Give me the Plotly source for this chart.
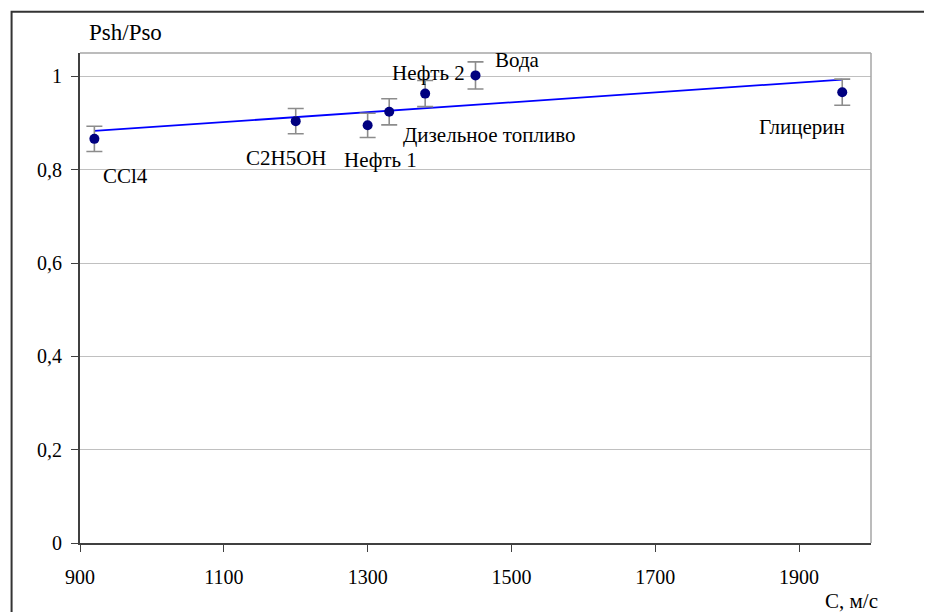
import plotly.graph_objects as go

# ---- data ----
names = ["CCl4", "C2H5OH", "Нефть 1", "Дизельное топливо", "Нефть 2", "Вода", "Глицерин"]
speed = [920, 1200, 1300, 1330, 1380, 1450, 1960]          # C, m/s
ratio = [0.866, 0.904, 0.895, 0.924, 0.963, 1.002, 0.966]   # Psh/Pso
err = [0.027, 0.027, 0.026, 0.028, 0.028, 0.029, 0.028]
trend_x = [920, 1960]
trend_y = [0.883, 0.993]
x_ticks = [900, 1100, 1300, 1500, 1700, 1900]
y_ticks = [0, 0.2, 0.4, 0.6, 0.8, 1]
y_ticktext = ["0", "0,2", "0,4", "0,6", "0,8", "1"]

# label placement (pixel offsets from each point): (xanchor, xshift, yshift)
label_pos = [("left", 7, -37), ("center", -9, -37), ("center", 13, -35),
             ("left", 12, -23), ("center", 3, 21), ("left", 17, 15),
             ("center", -40, -35)]

FONT = "Liberation Serif"
FS_LBL = 21
FS_TICK = 20

fig = go.Figure()
fig.add_trace(go.Scatter(
    x=trend_x, y=trend_y, mode="lines",
    line=dict(color="#0000ff", width=1.8), hoverinfo="skip", showlegend=False))
fig.add_trace(go.Scatter(
    x=speed, y=ratio, mode="markers",
    marker=dict(color="#000080", size=10),
    error_y=dict(type="data", array=err, visible=True, color="#8c8c8c",
                 thickness=1.6, width=8),
    text=names, showlegend=False))

annotations = []
for n, xv, yv, (xa, xs, ys) in zip(names, speed, ratio, label_pos):
    annotations.append(dict(x=xv, y=yv, xref="x", yref="y", text=n, showarrow=False,
                            xanchor=xa, yanchor="middle", xshift=xs, yshift=ys,
                            font=dict(family=FONT, size=FS_LBL, color="black")))
annotations.append(dict(x=0.009, y=1.0415, xref="paper", yref="paper", text="Psh/Pso",
                        showarrow=False, xanchor="left", yanchor="middle",
                        font=dict(family=FONT, size=23, color="black")))
annotations.append(dict(x=1.0114, y=-0.119, xref="paper", yref="paper", text="C, м/с",
                        showarrow=False, xanchor="right", yanchor="middle",
                        font=dict(family=FONT, size=FS_LBL, color="black")))

shapes = [
    dict(type="line", xref="paper", yref="paper", x0=0, x1=1, y0=1, y1=1,
         line=dict(color="#a6a6a6", width=1.5)),
    dict(type="line", xref="paper", yref="paper", x0=1, x1=1, y0=0, y1=1,
         line=dict(color="#a6a6a6", width=1.5)),
    dict(type="rect", xref="paper", yref="paper", x0=-0.0865, x1=1.5, y0=-0.5, y1=1.0844,
         line=dict(color="#333333", width=2), layer="above"),
]

# page body has an 8px default margin, so the figure is 8px smaller
fig.update_layout(
    width=924, height=604,
    margin=dict(l=71.5, r=61, t=45.3, b=69.3),
    paper_bgcolor="white", plot_bgcolor="white",
    font=dict(family=FONT, size=FS_TICK, color="black"),
    annotations=annotations, shapes=shapes,
    xaxis=dict(range=[900, 2000], tickvals=x_ticks, showgrid=False, zeroline=False,
               showline=True, linecolor="#404040", linewidth=2,
               ticks="outside", ticklen=7, tickcolor="#404040", tickwidth=1.3,
               ticklabelstandoff=8,
               tickfont=dict(family=FONT, size=FS_TICK, color="black")),
    yaxis=dict(range=[0, 1.05], tickvals=y_ticks, ticktext=y_ticktext,
               showgrid=True, gridcolor="#c0c0c0", gridwidth=1.2, zeroline=False,
               showline=True, linecolor="#404040", linewidth=2,
               ticks="outside", ticklen=7, tickcolor="#404040", tickwidth=1.3,
               ticklabelstandoff=5,
               tickfont=dict(family=FONT, size=FS_TICK, color="black")),
)

fig.write_html("out.html")
